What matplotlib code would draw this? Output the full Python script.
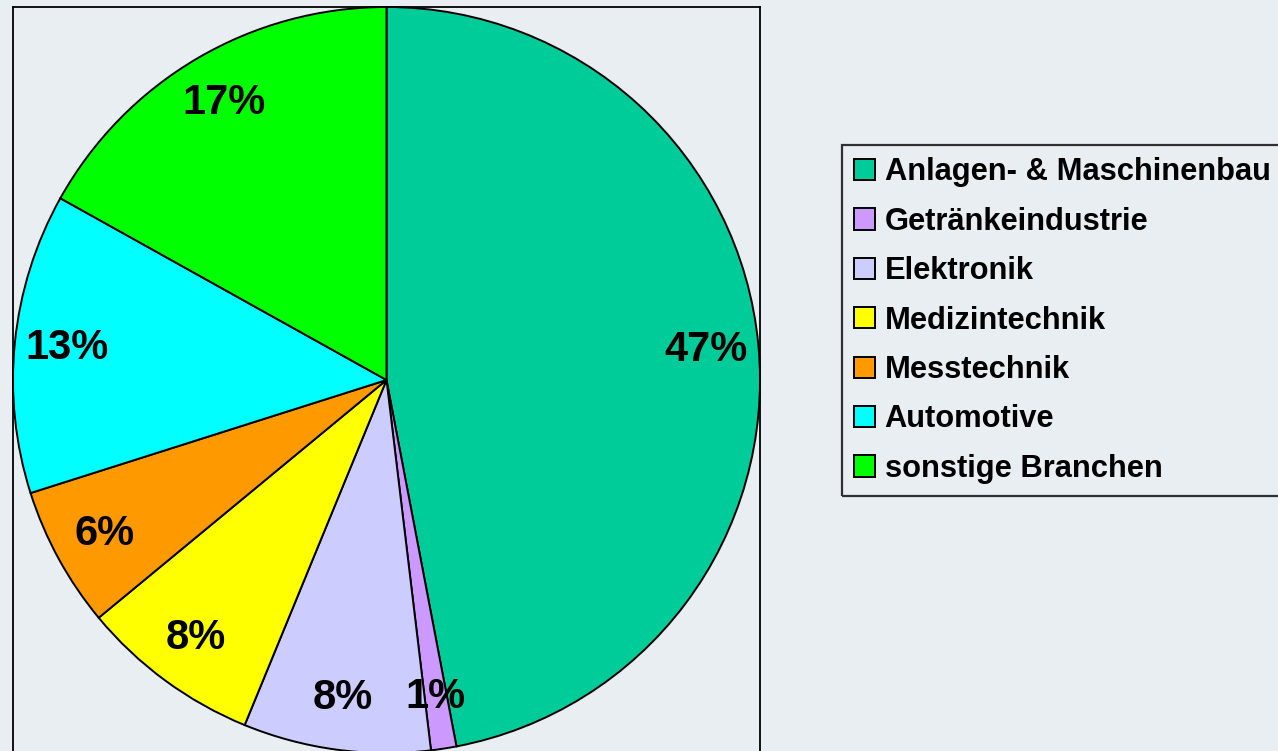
import matplotlib
matplotlib.use("Agg")
import matplotlib.pyplot as plt

plt.rcParams['font.family'] = ['Liberation Sans', 'DejaVu Sans']

branchen = ["Anlagen- & Maschinenbau", "Getränkeindustrie", "Elektronik",
            "Medizintechnik", "Messtechnik", "Automotive", "sonstige Branchen"]
anteile = [47.0, 1.1, 8.1, 7.8, 6.1, 13.0, 16.9]
farben = ["#00CC99", "#CC99FF", "#CCCCFF", "#FFFF00", "#FF9900", "#00FFFF", "#00FF00"]

W, H = 1278, 751
fig = plt.figure(figsize=(W / 100, H / 100), dpi=100)
fig.patch.set_facecolor("#E9EEF3")

# plot area with black frame, pie touches the frame
ax = fig.add_axes([13 / W, -2 / H, 747 / W, 746 / H])
wedges, texts, autotexts = ax.pie(
    anteile, colors=farben, startangle=90, counterclock=False,
    autopct="%.0f%%", pctdistance=0.86, radius=1.0,
    wedgeprops=dict(edgecolor="black", linewidth=1.4),
    textprops=dict(fontsize=30, fontweight="bold", color="black"))
ax.set_xlim(-1.0, 1.0)
ax.set_ylim(-1.0, 1.0)
ax.set_aspect("auto")
ax.set_frame_on(True)
ax.patch.set_visible(False)
for s in ax.spines.values():
    s.set_visible(True)
    s.set_color("black")
    s.set_linewidth(1.3)

leg = fig.legend(wedges, branchen, loc="upper left",
                 bbox_to_anchor=(842 / W, 1 - 145 / H), borderaxespad=0,
                 fancybox=False, frameon=True, edgecolor="black", facecolor="none",
                 prop=dict(size=22.2, weight="bold"),
                 handlelength=0.68, handleheight=0.68, handletextpad=0.3,
                 labelspacing=0.63, borderpad=0.4)
leg.get_frame().set_linewidth(1.6)

fig.savefig("out.png", dpi=100, facecolor=fig.get_facecolor())
